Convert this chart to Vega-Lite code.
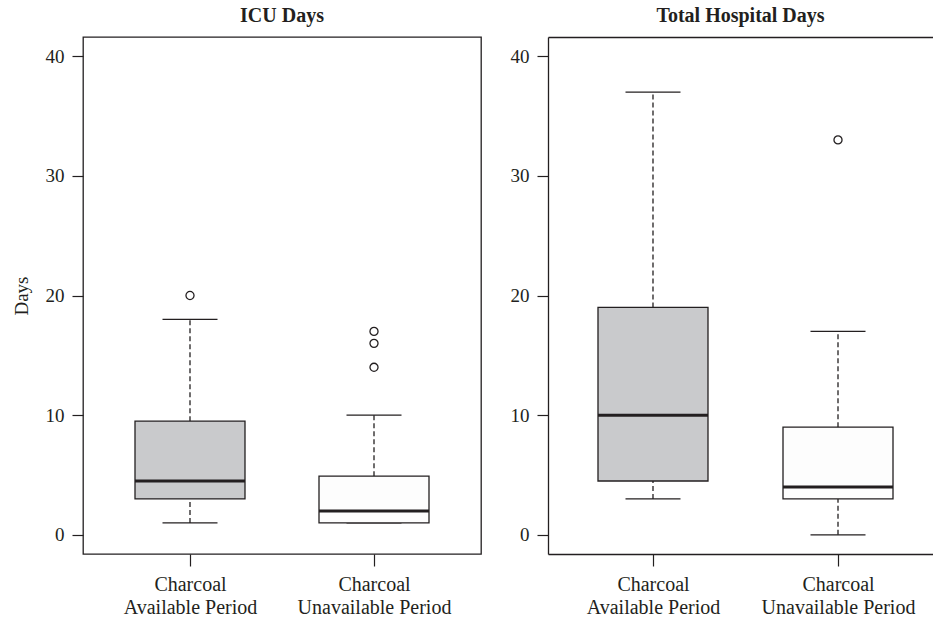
{
  "$schema": "https://vega.github.io/schema/vega-lite/v6.json",
  "padding": {"left": 11, "top": 5, "right": 0, "bottom": 0},
  "background": "white",
  "datasets": {
    "icu": [
      {"period": "Charcoal Available Period", "min": 1, "q1": 3, "median": 4.5, "q3": 9.5, "max": 18},
      {"period": "Charcoal Unavailable Period", "min": 1, "q1": 1, "median": 2, "q3": 4.9, "max": 10}
    ],
    "icuOut": [
      {"period": "Charcoal Available Period", "days": 20},
      {"period": "Charcoal Unavailable Period", "days": 14},
      {"period": "Charcoal Unavailable Period", "days": 16},
      {"period": "Charcoal Unavailable Period", "days": 17}
    ],
    "hosp": [
      {"period": "Charcoal Available Period", "min": 3, "q1": 4.5, "median": 10, "q3": 19, "max": 37},
      {"period": "Charcoal Unavailable Period", "min": 0, "q1": 3, "median": 4, "q3": 9, "max": 17}
    ],
    "hospOut": [
      {"period": "Charcoal Unavailable Period", "days": 33}
    ]
  },
  "config": {
    "font": "Liberation Serif",
    "view": {"stroke": "#231f20", "strokeWidth": 1.3},
    "title": {"font": "Liberation Serif", "fontSize": 20, "fontWeight": "bold", "color": "#231f20", "anchor": "middle", "baseline": "alphabetic", "offset": 11},
    "axis": {
      "labelFont": "Liberation Serif", "labelFontSize": 19, "labelColor": "#231f20",
      "titleFont": "Liberation Serif", "titleFontSize": 19, "titleFontWeight": "normal", "titleColor": "#231f20",
      "tickColor": "#231f20", "tickWidth": 1.2, "domainColor": "#231f20", "domainWidth": 1.3,
      "grid": false, "domain": false
    },
    "axisY": {"tickSize": 11, "labelPadding": 8, "titlePadding": 14},
    "axisX": {"tickSize": 12, "labelPadding": 8, "labelFontSize": 20, "labelAngle": 0, "labelLineHeight": 23, "labelOverlap": false, "labelBound": false, "labelFlush": false},
    "rule": {"color": "#231f20", "strokeWidth": 1.3, "strokeDash": [5, 3], "opacity": 1},
    "tick": {"color": "#231f20", "opacity": 1}
  },
  "spacing": 28,
  "hconcat": [
    {
      "width": 398,
      "height": 517,
      "title": "ICU Days",
      "layer": [
        {
          "data": {"name": "icu"},
          "mark": {"type": "rule"},
          "encoding": {
            "x": {"field": "period", "type": "nominal", "sort": ["Charcoal Available Period", "Charcoal Unavailable Period"], "scale": {"type": "point", "padding": 0.5815}, "title": null,
                  "axis": {"labelExpr": "[slice(datum.label,0,8), slice(datum.label,9)]"}},
            "y": {"field": "min", "type": "quantitative", "scale": {"domain": [-1.6, 41.6], "nice": false, "zero": false}, "title": "Days", "axis": {"values": [0, 10, 20, 30, 40]}},
            "y2": {"field": "q1"}
          }
        },
        {
          "data": {"name": "icu"},
          "mark": {"type": "rule"},
          "encoding": {
            "x": {"field": "period", "type": "nominal", "sort": ["Charcoal Available Period", "Charcoal Unavailable Period"], "title": null},
            "y": {"field": "q3", "type": "quantitative", "title": "Days"},
            "y2": {"field": "max"}
          }
        },
        {
          "data": {"name": "icu"},
          "mark": {"type": "tick", "size": 55, "thickness": 1.3, "opacity": 1},
          "encoding": {
            "x": {"field": "period", "type": "nominal", "sort": ["Charcoal Available Period", "Charcoal Unavailable Period"], "title": null},
            "y": {"field": "min", "type": "quantitative", "title": "Days"}
          }
        },
        {
          "data": {"name": "icu"},
          "mark": {"type": "tick", "size": 55, "thickness": 1.3, "opacity": 1},
          "encoding": {
            "x": {"field": "period", "type": "nominal", "sort": ["Charcoal Available Period", "Charcoal Unavailable Period"], "title": null},
            "y": {"field": "max", "type": "quantitative", "title": "Days"}
          }
        },
        {
          "data": {"name": "icu"},
          "mark": {"type": "bar", "width": 110, "stroke": "#231f20", "strokeWidth": 1.3, "opacity": 1},
          "encoding": {
            "x": {"field": "period", "type": "nominal", "sort": ["Charcoal Available Period", "Charcoal Unavailable Period"], "title": null},
            "y": {"field": "q1", "type": "quantitative", "title": "Days"},
            "y2": {"field": "q3"},
            "fill": {"field": "period", "type": "nominal", "scale": {"domain": ["Charcoal Available Period", "Charcoal Unavailable Period"], "range": ["#c9cacc", "#fdfdfd"]}, "legend": null}
          }
        },
        {
          "data": {"name": "icu"},
          "mark": {"type": "tick", "size": 110, "thickness": 3, "opacity": 1},
          "encoding": {
            "x": {"field": "period", "type": "nominal", "sort": ["Charcoal Available Period", "Charcoal Unavailable Period"], "title": null},
            "y": {"field": "median", "type": "quantitative", "title": "Days"}
          }
        },
        {
          "data": {"name": "icuOut"},
          "mark": {"type": "point", "shape": "circle", "filled": false, "size": 65, "color": "#231f20", "strokeWidth": 1.3, "opacity": 1},
          "encoding": {
            "x": {"field": "period", "type": "nominal", "sort": ["Charcoal Available Period", "Charcoal Unavailable Period"], "title": null},
            "y": {"field": "days", "type": "quantitative", "title": "Days"}
          }
        }
      ]
    },
    {
      "width": 385,
      "height": 517,
      "title": "Total Hospital Days",
      "view": {"stroke": null},
      "resolve": {"axis": {"x": "independent"}},
      "layer": [
        {
          "data": {"name": "hosp"},
          "mark": {"type": "rule"},
          "encoding": {
            "x": {"field": "period", "type": "nominal", "sort": ["Charcoal Available Period", "Charcoal Unavailable Period"], "scale": {"type": "point", "padding": 0.5405, "align": 0.525}, "title": null,
                  "axis": {"domain": true, "labelExpr": "[slice(datum.label,0,8), slice(datum.label,9)]"}},
            "y": {"field": "min", "type": "quantitative", "scale": {"domain": [-1.6, 41.6], "nice": false, "zero": false}, "title": null, "axis": {"values": [0, 10, 20, 30, 40], "domain": true}},
            "y2": {"field": "q1"}
          }
        },
        {
          "data": {"name": "hosp"},
          "mark": {"type": "rule"},
          "encoding": {
            "x": {"field": "period", "type": "nominal", "sort": ["Charcoal Available Period", "Charcoal Unavailable Period"], "title": null,
                  "axis": {"orient": "top", "domain": true, "labels": false, "ticks": false}},
            "y": {"field": "q3", "type": "quantitative", "title": null},
            "y2": {"field": "max"}
          }
        },
        {
          "data": {"name": "hosp"},
          "mark": {"type": "tick", "size": 55, "thickness": 1.3, "opacity": 1},
          "encoding": {
            "x": {"field": "period", "type": "nominal", "sort": ["Charcoal Available Period", "Charcoal Unavailable Period"], "title": null, "axis": null},
            "y": {"field": "min", "type": "quantitative", "title": null}
          }
        },
        {
          "data": {"name": "hosp"},
          "mark": {"type": "tick", "size": 55, "thickness": 1.3, "opacity": 1},
          "encoding": {
            "x": {"field": "period", "type": "nominal", "sort": ["Charcoal Available Period", "Charcoal Unavailable Period"], "title": null, "axis": null},
            "y": {"field": "max", "type": "quantitative", "title": null}
          }
        },
        {
          "data": {"name": "hosp"},
          "mark": {"type": "bar", "width": 110, "stroke": "#231f20", "strokeWidth": 1.3, "opacity": 1},
          "encoding": {
            "x": {"field": "period", "type": "nominal", "sort": ["Charcoal Available Period", "Charcoal Unavailable Period"], "title": null, "axis": null},
            "y": {"field": "q1", "type": "quantitative", "title": null},
            "y2": {"field": "q3"},
            "fill": {"field": "period", "type": "nominal", "scale": {"domain": ["Charcoal Available Period", "Charcoal Unavailable Period"], "range": ["#c9cacc", "#fdfdfd"]}, "legend": null}
          }
        },
        {
          "data": {"name": "hosp"},
          "mark": {"type": "tick", "size": 110, "thickness": 3, "opacity": 1},
          "encoding": {
            "x": {"field": "period", "type": "nominal", "sort": ["Charcoal Available Period", "Charcoal Unavailable Period"], "title": null, "axis": null},
            "y": {"field": "median", "type": "quantitative", "title": null}
          }
        },
        {
          "data": {"name": "hospOut"},
          "mark": {"type": "point", "shape": "circle", "filled": false, "size": 65, "color": "#231f20", "strokeWidth": 1.3, "opacity": 1},
          "encoding": {
            "x": {"field": "period", "type": "nominal", "sort": ["Charcoal Available Period", "Charcoal Unavailable Period"], "title": null, "axis": null},
            "y": {"field": "days", "type": "quantitative", "title": null}
          }
        }
      ]
    }
  ]
}
